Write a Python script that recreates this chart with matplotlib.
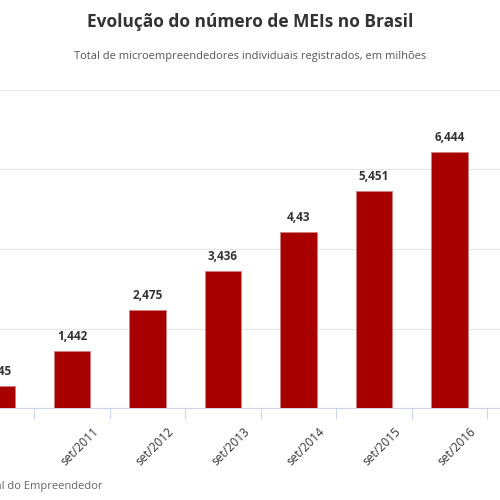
import matplotlib
matplotlib.use("Agg")
import matplotlib.pyplot as plt
from matplotlib.transforms import ScaledTranslation

categories = ["set/2010", "set/2011", "set/2012", "set/2013", "set/2014", "set/2015", "set/2016", "set/2017"]
values = [0.545, 1.442, 2.475, 3.436, 4.43, 5.451, 6.444, 7.4]
labels = ["0,545", "1,442", "2,475", "3,436", "4,43", "5,451", "6,444", "7,4"]

fig = plt.figure(figsize=(5, 5), dpi=100)
ax = fig.add_axes([0, 0.184, 1, 0.636])
x = list(range(len(values)))
ax.bar(x, values, width=0.48, color="#a80000", edgecolor="#d08080", linewidth=0.6, zorder=3)
for xi, v, l in zip(x, values, labels):
    ax.text(xi, v + 0.2, l, ha="center", va="bottom", fontsize=8.5, fontweight="bold", color="#333333",
            family="Open Sans")
ax.set_yticks([0, 2, 4, 6, 8])
ax.tick_params(axis="y", length=0, labelleft=False)
ax.grid(axis="y", color="#e6e6e6", linewidth=0.8, zorder=0)
for s in ["left", "right", "top"]:
    ax.spines[s].set_visible(False)
ax.spines["bottom"].set_color("#ccd6eb")
ax.set_xticks([i + 0.5 for i in range(-1, 8)], minor=False)
ax.tick_params(axis="x", which="major", length=8, color="#ccd6eb", labelbottom=False)
ax.set_xticks(x, minor=True)
ax.set_xticklabels(categories, minor=True, rotation=45, ha="right", rotation_mode="anchor",
                   fontsize=8.5, color="#333333", family="Open Sans")
ax.tick_params(axis="x", which="minor", length=0, pad=12)
for t in ax.get_xticklabels(minor=True):
    t.set_transform(t.get_transform() + ScaledTranslation(0.2, 0, fig.dpi_scale_trans))
ax.set_xlim(0.046, 6.67)
ax.set_ylim(0, 8)

fig.text(0.5, 0.956, "Evolução do número de MEIs no Brasil", ha="center", va="center",
         fontsize=12.5, fontweight="bold", color="#333333", family="Open Sans")
fig.text(0.5, 0.886, "Total de microempreendedores individuais registrados, em milhões", ha="center", va="center",
         fontsize=8, color="#555555", family="Open Sans")
fig.text(0.206, 0.027, "Fonte: Portal do Empreendedor", ha="right", va="center",
         fontsize=8, color="#666666", family="Open Sans")
fig.savefig("out.png", dpi=100)
